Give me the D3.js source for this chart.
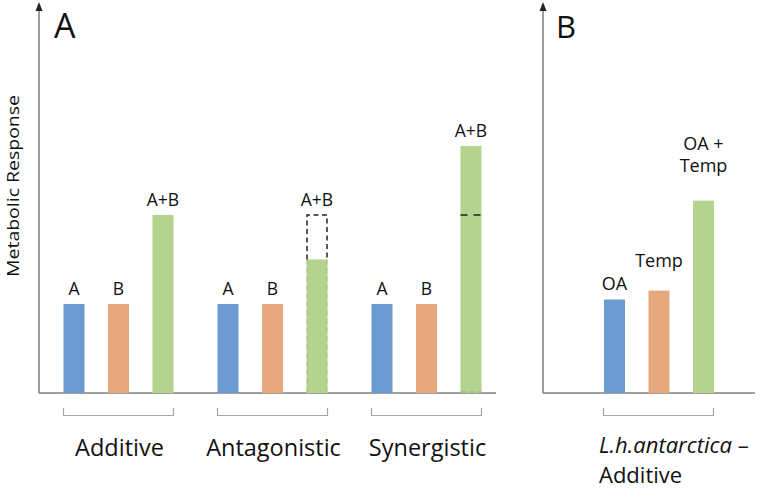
<!DOCTYPE html>
<html><head><meta charset="utf-8">
<script src="https://cdn.jsdelivr.net/npm/d3@7"></script>
<style>
html,body{margin:0;padding:0;background:#fff;}
svg{display:block;font-family:"Open Sans",sans-serif;}
</style></head>
<body><svg id="chart" width="773" height="490"></svg>
<script>
// ---- data ----
const groupsA = ["Additive", "Antagonistic", "Synergistic"];
const keysA = ["A", "B", "A+B"];
const valuesA_A = [2, 2, 2];
const valuesA_B = [2, 2, 2];
const valuesA_AB = [4, 3.0, 5.55];
const expectedA_AB = [4, 4, 4];
const groupsB = ["L.h.antarctica"];
const keysB = ["OA", "Temp", "OA + Temp"];
const valuesB = [2.1, 2.3, 4.32];
const colors = ["#6c9bd2", "#e8a87e", "#b3d38e"];
const yLabel = "Metabolic Response";

const svg = d3.select("#chart");
const y = d3.scaleLinear().domain([0, 8.76]).range([393, 3]);
const axisColor = "#7f7f7f";
const barW = 21;

function drawAxes(x0, x1) {
  svg.append("line").attr("x1", x0).attr("x2", x0).attr("y1", y(0)).attr("y2", y(8.76) + 6)
    .attr("stroke", axisColor).attr("stroke-width", 1.5);
  svg.append("path").attr("d", `M${x0},${y(8.76) - 1} L${x0 - 3.5},${y(8.76) + 8} L${x0 + 3.5},${y(8.76) + 8} Z`)
    .attr("fill", "#222");
  svg.append("line").attr("x1", x0).attr("x2", x1).attr("y1", y(0)).attr("y2", y(0))
    .attr("stroke", axisColor).attr("stroke-width", 1.5);
}
function bracket(cx) {
  const l = cx - 55, r = cx + 55;
  svg.append("path").attr("d", `M${l},408 L${l},415.5 L${r},415.5 L${r},408`)
    .attr("fill", "none").attr("stroke", "#a6a6a6").attr("stroke-width", 1.2);
}

// ---- Panel A ----
const xA = d3.scaleBand().domain(groupsA).range([41.5, 503.5]);
const inner = d3.scalePoint().domain(keysA).range([-44.5, 44.5]);
drawAxes(39, 496);
svg.append("text").attr("x", 54).attr("y", 38).attr("font-size", 34).attr("fill", "#111").text("A");

groupsA.forEach((g, gi) => {
  const cx = xA(g) + xA.bandwidth() / 2;
  const vals = [valuesA_A[gi], valuesA_B[gi], valuesA_AB[gi]];
  keysA.forEach((k, ki) => {
    const bx = cx + inner(k) - barW / 2;
    const v = vals[ki];
    svg.append("rect").attr("x", bx).attr("y", y(v)).attr("width", barW).attr("height", y(0) - y(v))
      .attr("fill", colors[ki]);
    let top = v;
    if (ki === 2) {
      const e = expectedA_AB[gi];
      if (e > v) {
        svg.append("path").attr("d", `M${bx + 0.5},${y(v)} L${bx + 0.5},${y(e)} L${bx + barW - 0.5},${y(e)} L${bx + barW - 0.5},${y(v)}`)
          .attr("fill", "none").attr("stroke", "#222").attr("stroke-width", 1.5).attr("stroke-dasharray", "5,3.5");
        svg.append("path").attr("d", `M${bx + 0.5},${y(v)} L${bx + 0.5},${y(0)} M${bx + barW - 0.5},${y(v)} L${bx + barW - 0.5},${y(0)}`)
          .attr("fill", "none").attr("stroke", "#6f8a5a").attr("stroke-opacity", 0.35).attr("stroke-width", 1).attr("stroke-dasharray", "5,3.5");
        top = e;
      } else if (e < v) {
        svg.append("line").attr("x1", bx).attr("x2", bx + barW).attr("y1", y(e)).attr("y2", y(e))
          .attr("stroke", "#222").attr("stroke-width", 1.5).attr("stroke-dasharray", "7,6");
        svg.append("line").attr("x1", bx).attr("x2", bx + barW).attr("y1", y(0) - 1).attr("y2", y(0) - 1)
          .attr("stroke", "#6f8a5a").attr("stroke-opacity", 0.5).attr("stroke-width", 1).attr("stroke-dasharray", "5,3");
      }
    }
    svg.append("text").attr("x", cx + inner(k)).attr("y", y(top) - 8.5).attr("text-anchor", "middle")
      .attr("font-size", 17.5).attr("fill", "#111").text(k);
  });
  bracket(cx);
  svg.append("text").attr("x", cx + 1).attr("y", 456).attr("text-anchor", "middle")
    .attr("font-size", 23.5).attr("fill", "#111").text(g);
});

// ---- Panel B ----
const xB = d3.scaleBand().domain(groupsB).range([582, 736]);
const innerB = d3.scalePoint().domain(keysB).range([-44.5, 44.5]);
const labelLift = [10, 24, 29];
drawAxes(543, 755);
svg.append("text").attr("x", 556).attr("y", 38).attr("font-size", 31).attr("fill", "#111").text("B");
groupsB.forEach(g => {
  const cx = xB(g) + xB.bandwidth() / 2;
  keysB.forEach((k, ki) => {
    const bx = cx + innerB(k) - barW / 2;
    const v = valuesB[ki];
    svg.append("rect").attr("x", bx).attr("y", y(v)).attr("width", barW).attr("height", y(0) - y(v))
      .attr("fill", colors[ki]);
    const t = svg.append("text").attr("x", cx + innerB(k)).attr("text-anchor", "middle")
      .attr("font-size", 18).attr("fill", "#111");
    const parts = k === "OA + Temp" ? ["OA +", "Temp"] : [k];
    const base = y(v) - labelLift[ki] - (parts.length - 1) * 21.7;
    parts.forEach((p, i) => t.append("tspan").attr("x", cx + innerB(k)).attr("y", base + i * 21.7).text(p));
  });
  bracket(cx - 0.5);
  const t = svg.append("text").attr("x", 599).attr("y", 453).attr("font-size", 22).attr("fill", "#111");
  t.append("tspan").attr("font-style", "italic").text(g);
  t.append("tspan").text(" –");
  t.append("tspan").attr("x", 599).attr("y", 483).text("Additive");
});

// ---- y label ----
svg.append("text").attr("transform", "translate(19,186) rotate(-90)").attr("text-anchor", "middle")
  .attr("font-size", 17).attr("fill", "#111").attr("textLength", 182).attr("lengthAdjust", "spacingAndGlyphs").text(yLabel);
</script>
</body></html>
